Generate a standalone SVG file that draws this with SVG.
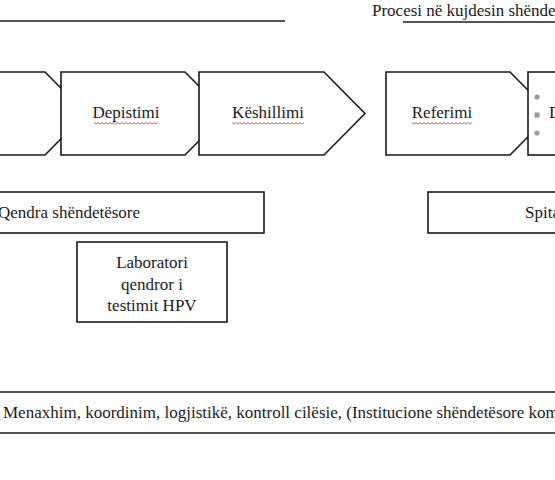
<svg xmlns="http://www.w3.org/2000/svg" width="555" height="480" viewBox="0 0 555 480">
<defs>
<style>
.sh{fill:#fff;stroke:#1a1a1a;stroke-width:1.6;stroke-linejoin:miter}
.t{font-family:"Liberation Serif","Times New Roman",serif;font-size:17px;fill:#1a1a1a}
.c{text-anchor:middle}
.ln{stroke:#1a1a1a;stroke-width:1.6;fill:none}
.sq{fill:none;stroke:#d04040;stroke-width:0.8}
.hd{fill:#9a9a9a}
</style>
</defs>
<rect width="555" height="480" fill="#fff"/>
<g id="header">
<line class="ln" x1="0" y1="21" x2="285" y2="21"/>
<line class="ln" x1="403" y1="22" x2="555" y2="22"/>
<text class="t" x="372" y="16">Procesi në kujdesin shënde</text>
</g>
<g id="step0">
<polygon class="sh" points="-10,72 45,72 86,113.5 45,155 -10,155"/>
</g>
<g id="step1">
<polygon class="sh" points="61,72 185,72 226,113.5 185,155 61,155"/>
<text class="t c" x="126" y="118">Depistimi</text>
<path class="sq" d="M94,122.5 l2,1.5 l2,-1.5 l2,1.5 l2,-1.5 l2,1.5 l2,-1.5 l2,1.5 l2,-1.5 l2,1.5 l2,-1.5 l2,1.5 l2,-1.5 l2,1.5 l2,-1.5 l2,1.5 l2,-1.5 l2,1.5 l2,-1.5 l2,1.5 l2,-1.5 l2,1.5 l2,-1.5 l2,1.5 l2,-1.5 l2,1.5 l2,-1.5 l2,1.5 l2,-1.5 l2,1.5 l2,-1.5 l2,1.5 l2,-1.5"/>
</g>
<g id="step2">
<polygon class="sh" points="199,72 324,72 365,113.5 324,155 199,155"/>
<text class="t c" x="268" y="118">Këshillimi</text>
<path class="sq" d="M232,122.5 l2,1.5 l2,-1.5 l2,1.5 l2,-1.5 l2,1.5 l2,-1.5 l2,1.5 l2,-1.5 l2,1.5 l2,-1.5 l2,1.5 l2,-1.5 l2,1.5 l2,-1.5 l2,1.5 l2,-1.5 l2,1.5 l2,-1.5 l2,1.5 l2,-1.5 l2,1.5 l2,-1.5 l2,1.5 l2,-1.5 l2,1.5 l2,-1.5 l2,1.5 l2,-1.5 l2,1.5 l2,-1.5 l2,1.5 l2,-1.5 l2,1.5 l2,-1.5 l2,1.5 l2,-1.5"/>
</g>
<g id="step3">
<polygon class="sh" points="386,72 510,72 551,113.5 510,155 386,155"/>
<text class="t c" x="442" y="118">Referimi</text>
<path class="sq" d="M412,122.5 l2,1.5 l2,-1.5 l2,1.5 l2,-1.5 l2,1.5 l2,-1.5 l2,1.5 l2,-1.5 l2,1.5 l2,-1.5 l2,1.5 l2,-1.5 l2,1.5 l2,-1.5 l2,1.5 l2,-1.5 l2,1.5 l2,-1.5 l2,1.5 l2,-1.5 l2,1.5 l2,-1.5 l2,1.5 l2,-1.5 l2,1.5 l2,-1.5 l2,1.5 l2,-1.5 l2,1.5 l2,-1.5"/>
</g>
<g id="step4">
<rect class="sh" x="528" y="72" width="40" height="83"/>
<circle class="hd" cx="537" cy="97" r="2.6"/>
<rect class="hd" x="534.5" y="112.5" width="5" height="5"/>
<circle class="hd" cx="537" cy="133" r="2.6"/>
<text class="t" x="549" y="118">D</text>
</g>
<g id="qendra">
<rect class="sh" x="-10" y="192" width="274" height="41"/>
<text class="t" x="-2" y="218">Qendra shëndetësore</text>
</g>
<g id="spitali">
<rect class="sh" x="428" y="192" width="140" height="41"/>
<text class="t" x="525" y="218">Spita</text>
</g>
<g id="laboratori">
<rect class="sh" x="77" y="242" width="150" height="80"/>
<text class="t c" x="152" y="268">Laboratori</text>
<text class="t c" x="152" y="290">qendror i</text>
<text class="t c" x="152" y="311">testimit HPV</text>
</g>
<g id="menaxhim">
<line class="ln" x1="0" y1="392" x2="555" y2="392"/>
<line class="ln" x1="0" y1="433" x2="555" y2="433"/>
<text class="t" x="3" y="418">Menaxhim, koordinim, logjistikë, kontroll cilësie, (Institucione shëndetësore kom</text>
</g>
<g id="connectors"></g>
</svg>
